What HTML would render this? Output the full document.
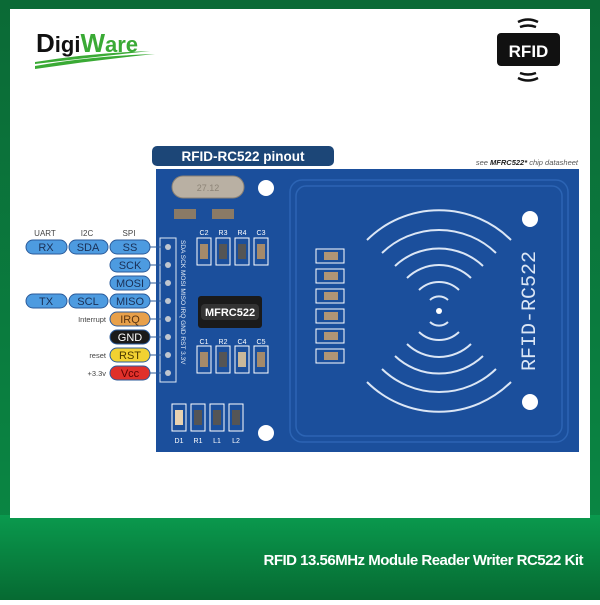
<!DOCTYPE html>
<html><head><meta charset="utf-8"><style>
body{margin:0;width:600px;height:600px;overflow:hidden;font-family:"Liberation Sans",sans-serif}
</style></head><body>
<svg width="600" height="600" xmlns="http://www.w3.org/2000/svg" font-family="Liberation Sans, sans-serif">
<defs>
<linearGradient id="g" x1="0" y1="0" x2="0" y2="1">
<stop offset="0" stop-color="#0a9a4e"/><stop offset="1" stop-color="#066a32"/></linearGradient>
<linearGradient id="tg" x1="0" y1="0" x2="0" y2="1">
<stop offset="0" stop-color="#0b6a36"/><stop offset="1" stop-color="#0a8a45"/></linearGradient>
</defs>
<rect width="600" height="600" fill="url(#tg)"/>
<rect x="0" y="515" width="600" height="85" fill="url(#g)"/>
<rect x="10" y="9" width="580" height="509" fill="#fff"/>
<!-- logo -->
<text x="36" y="52" font-size="26" font-weight="bold" fill="#111">D<tspan font-size="22">igi</tspan><tspan fill="#3aaa35" font-size="26">W</tspan><tspan fill="#3aaa35" font-size="22">are</tspan></text>
<path d="M35 66 Q90 56 155 54 Q95 60 35 69Z" fill="#3aaa35"/>
<path d="M35 62 Q90 53 150 51 Q95 57 35 64Z" fill="#3aaa35"/>
<!-- RFID icon -->
<rect x="497" y="33" width="63" height="33" rx="4" fill="#111"/>
<text x="528.5" y="57" font-size="17" font-weight="bold" fill="#fff" text-anchor="middle">RFID</text>
<path d="M518 22 Q528 17 538 22 M520 27 Q528 24 536 27 M518 78 Q528 83 538 78 M520 73 Q528 76 536 73" stroke="#111" stroke-width="2.5" fill="none"/>
<!-- title tab -->
<rect x="152" y="146" width="182" height="20" rx="5" fill="#1c4677"/>
<text x="243" y="161" font-size="13.5" font-weight="bold" fill="#fff" text-anchor="middle">RFID-RC522 pinout</text>
<text x="578" y="165" font-size="7.5" font-style="italic" fill="#555" text-anchor="end">see <tspan font-weight="bold" fill="#222">MFRC522*</tspan> chip datasheet</text>
<!-- board -->
<rect x="156" y="169" width="423" height="283" fill="#1b4f9c"/>
<rect x="290" y="180" width="278" height="262" rx="12" fill="none" stroke="#2c64b4" stroke-width="1.5"/>
<rect x="296" y="186" width="266" height="250" rx="10" fill="none" stroke="#2c64b4" stroke-width="1.5"/>
<g fill="#fff"><circle cx="266" cy="188" r="8"/><circle cx="266" cy="433" r="8"/><circle cx="530" cy="219" r="8"/><circle cx="530" cy="402" r="8"/></g>
<!-- crystal -->
<rect x="172" y="176" width="72" height="22" rx="11" fill="#b9b0a3" stroke="#8a8175"/>
<text x="208" y="191" font-size="9" fill="#8d8477" text-anchor="middle">27.12</text>
<g fill="#8a7a66"><rect x="174" y="209" width="22" height="10"/><rect x="212" y="209" width="22" height="10"/></g>
<!-- header -->
<rect x="160" y="238" width="16" height="144" fill="none" stroke="#dfe8f5" stroke-width="1"/>
<g fill="#c0c6cf"><circle cx="168" cy="247" r="3"/><circle cx="168" cy="265" r="3"/><circle cx="168" cy="283" r="3"/><circle cx="168" cy="301" r="3"/><circle cx="168" cy="319" r="3"/><circle cx="168" cy="337" r="3"/><circle cx="168" cy="355" r="3"/><circle cx="168" cy="373" r="3"/></g>
<text transform="translate(181,240) rotate(90)" font-size="6.5" fill="#e6eef8">SDA SCK MOSI MISO IRQ GND RST 3.3V</text>
<!-- smd comps -->
<g fill="none" stroke="#fff" stroke-width="1">
<rect x="197" y="238" width="14" height="27"/><rect x="216" y="238" width="14" height="27"/><rect x="235" y="238" width="14" height="27"/><rect x="254" y="238" width="14" height="27"/>
<rect x="197" y="346" width="14" height="27"/><rect x="216" y="346" width="14" height="27"/><rect x="235" y="346" width="14" height="27"/><rect x="254" y="346" width="14" height="27"/>
<rect x="172" y="404" width="14" height="27"/><rect x="191" y="404" width="14" height="27"/><rect x="210" y="404" width="14" height="27"/><rect x="229" y="404" width="14" height="27"/>
</g>
<g fill="#a58a6a"><rect x="200" y="244" width="8" height="15"/><rect x="219" y="244" width="8" height="15" fill="#555"/><rect x="238" y="244" width="8" height="15" fill="#555"/><rect x="257" y="244" width="8" height="15"/>
<rect x="200" y="352" width="8" height="15"/><rect x="219" y="352" width="8" height="15" fill="#555"/><rect x="238" y="352" width="8" height="15" fill="#c9b89a"/><rect x="257" y="352" width="8" height="15"/>
<rect x="175" y="410" width="8" height="15" fill="#e8d2b0"/><rect x="194" y="410" width="8" height="15" fill="#555"/><rect x="213" y="410" width="8" height="15" fill="#555"/><rect x="232" y="410" width="8" height="15" fill="#555"/></g>
<g font-size="7" fill="#fff" text-anchor="middle"><text x="204" y="235">C2</text><text x="223" y="235">R3</text><text x="242" y="235">R4</text><text x="261" y="235">C3</text>
<text x="204" y="344">C1</text><text x="223" y="344">R2</text><text x="242" y="344">C4</text><text x="261" y="344">C5</text>
<text x="179" y="443">D1</text><text x="198" y="443">R1</text><text x="217" y="443">L1</text><text x="236" y="443">L2</text></g>
<!-- chip -->
<rect x="198" y="296" width="64" height="32" rx="3" fill="#1a1a1a"/>
<rect x="201" y="304" width="58" height="16" rx="4" fill="#333"/>
<text x="230" y="316" font-size="11" font-weight="bold" fill="#fff" text-anchor="middle">MFRC522</text>
<!-- C caps column -->
<g fill="none" stroke="#fff"><rect x="316" y="249" width="28" height="14"/><rect x="316" y="269" width="28" height="14"/><rect x="316" y="289" width="28" height="14"/><rect x="316" y="309" width="28" height="14"/><rect x="316" y="329" width="28" height="14"/><rect x="316" y="349" width="28" height="14"/></g>
<g fill="#b09575"><rect x="324" y="252" width="14" height="8"/><rect x="324" y="272" width="14" height="8"/><rect x="324" y="292" width="14" height="8"/><rect x="324" y="312" width="14" height="8"/><rect x="324" y="332" width="14" height="8"/><rect x="324" y="352" width="14" height="8"/></g>
<!-- waves -->
<g fill="none" stroke="#dbe6f5" stroke-width="2">
<path d="M367 240 A102 102 0 0 1 511 240"/><path d="M382 253 A82 82 0 0 1 496 253"/><path d="M395 266 A64 64 0 0 1 483 266"/><path d="M407 278 A46 46 0 0 1 471 278"/><path d="M419 290 A29 29 0 0 1 459 290"/><path d="M430 300 A13 13 0 0 1 448 300"/>
<path d="M367 382 A102 102 0 0 0 511 382"/><path d="M382 369 A82 82 0 0 0 496 369"/><path d="M395 356 A64 64 0 0 0 483 356"/><path d="M407 344 A46 46 0 0 0 471 344"/><path d="M419 332 A29 29 0 0 0 459 332"/><path d="M430 322 A13 13 0 0 0 448 322"/>
</g>
<circle cx="439" cy="311" r="3" fill="#fff"/>
<text transform="translate(535,311) rotate(-90)" font-size="20" fill="#dbe6f5" text-anchor="middle" font-family="Liberation Mono, monospace">RFID-RC522</text>
<!-- pin labels -->
<g font-size="8" fill="#444" text-anchor="middle"><text x="45" y="236">UART</text><text x="87" y="236">I2C</text><text x="129" y="236">SPI</text></g>
<g stroke="#2a5a9a" stroke-width="1"><line x1="150" y1="247" x2="165" y2="247"/><line x1="150" y1="265" x2="165" y2="265"/><line x1="150" y1="283" x2="165" y2="283"/><line x1="150" y1="301" x2="165" y2="301"/><line x1="150" y1="319" x2="165" y2="319"/><line x1="150" y1="337" x2="165" y2="337"/><line x1="150" y1="355" x2="165" y2="355"/><line x1="150" y1="373" x2="165" y2="373"/></g>
<g stroke="#2a5a9a" stroke-width="1">
<rect x="26" y="240" width="41" height="14" rx="7" fill="#4d9be0"/><rect x="69" y="240" width="39" height="14" rx="7" fill="#4d9be0"/><rect x="110" y="240" width="40" height="14" rx="7" fill="#4d9be0"/>
<rect x="110" y="258" width="40" height="14" rx="7" fill="#4d9be0"/><rect x="110" y="276" width="40" height="14" rx="7" fill="#4d9be0"/>
<rect x="26" y="294" width="41" height="14" rx="7" fill="#4d9be0"/><rect x="69" y="294" width="39" height="14" rx="7" fill="#4d9be0"/><rect x="110" y="294" width="40" height="14" rx="7" fill="#4d9be0"/>
<rect x="110" y="312" width="40" height="14" rx="7" fill="#e8a04a"/><rect x="110" y="330" width="40" height="14" rx="7" fill="#1a1a1a"/><rect x="110" y="348" width="40" height="14" rx="7" fill="#f2d232"/><rect x="110" y="366" width="40" height="14" rx="7" fill="#e0302a"/>
</g>
<g font-size="11" fill="#1a2f55" text-anchor="middle"><text x="46" y="251">RX</text><text x="88" y="251">SDA</text><text x="130" y="251">SS</text><text x="130" y="269">SCK</text><text x="130" y="287">MOSI</text><text x="46" y="305">TX</text><text x="88" y="305">SCL</text><text x="130" y="305">MISO</text><text x="130" y="323" fill="#5a3410">IRQ</text><text x="130" y="341" fill="#fff">GND</text><text x="130" y="359" fill="#4a3a00">RST</text><text x="130" y="377" fill="#5a0000">Vcc</text></g>
<g font-size="7.5" fill="#444" text-anchor="end"><text x="106" y="322">Interrupt</text><text x="106" y="358">reset</text><text x="106" y="376">+3.3v</text></g>
<!-- bottom caption -->
<text x="583" y="565" font-size="15" font-weight="bold" fill="#fff" text-anchor="end" letter-spacing="-0.5">RFID 13.56MHz Module Reader Writer RC522 Kit</text>
</svg>
</body></html>
